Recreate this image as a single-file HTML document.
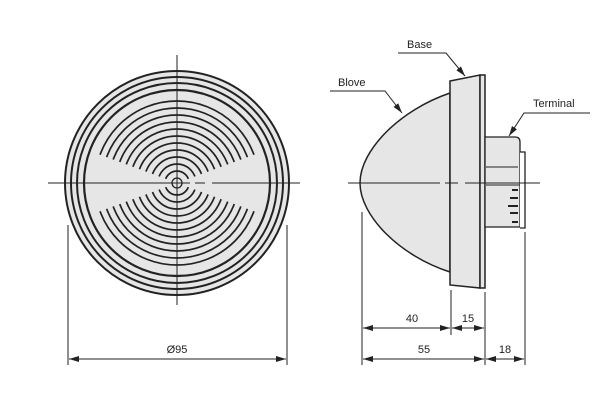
<!DOCTYPE html>
<html><head><meta charset="utf-8"><style>
html,body{margin:0;padding:0;background:#fff;}
svg{display:block;font-family:"Liberation Sans",Arial,sans-serif;}
</style></head><body>
<svg width="601" height="405" viewBox="0 0 601 405" xmlns="http://www.w3.org/2000/svg">
<defs>
<clipPath id="bt"><polygon points="177,183 0,118 0,0 354,0 354,118"/><polygon points="177,183 0,248 0,400 354,400 354,248"/></clipPath>
<marker id="a" viewBox="0 0 10 6" refX="10" refY="3" markerWidth="10" markerHeight="6" orient="auto-start-reverse" markerUnits="userSpaceOnUse"><path d="M0,0L10,3L0,6z" fill="#222"/></marker>
</defs>
<!-- front view -->
<circle cx="177" cy="183" r="112" fill="#e6e6e6" stroke="#222" stroke-width="2"/>
<g fill="none" stroke="#222">
<circle cx="177" cy="183" r="106" stroke-width="2"/>
<circle cx="177" cy="183" r="100" stroke-width="2"/>
<circle cx="177" cy="183" r="93" stroke-width="2.2"/>
<g clip-path="url(#bt)" stroke-width="1.7">
<circle cx="177" cy="183" r="12"/><circle cx="177" cy="183" r="19"/><circle cx="177" cy="183" r="26"/><circle cx="177" cy="183" r="33"/><circle cx="177" cy="183" r="40"/><circle cx="177" cy="183" r="47"/><circle cx="177" cy="183" r="54"/><circle cx="177" cy="183" r="61"/><circle cx="177" cy="183" r="68"/><circle cx="177" cy="183" r="75"/><circle cx="177" cy="183" r="82"/>
</g>
<circle cx="177" cy="183" r="5" stroke-width="1.3"/>
</g>
<g stroke="#222" stroke-width="1" fill="none">
<line x1="177" y1="55" x2="177" y2="305"/>
<line x1="48" y1="183" x2="190" y2="183"/><line x1="195" y1="183" x2="205" y2="183"/><line x1="212" y1="183" x2="300" y2="183"/>
<line x1="68" y1="225" x2="68" y2="365"/><line x1="287" y1="225" x2="287" y2="365"/>
<line x1="69" y1="359" x2="286" y2="359" marker-start="url(#a)" marker-end="url(#a)"/>
</g>
<text x="177" y="353" font-size="11" text-anchor="middle" fill="#222">Ø95</text>
<!-- side view -->
<g stroke="#222" stroke-width="1.5" fill="#e6e6e6">
<path d="M450,93 C400,110 360,150 360,183 C360,216 400,256 450,272 Z"/>
<path d="M450,81 L480,75 L480,288 L450,285 Z"/>
<rect x="480" y="75" width="5" height="213"/>
<path d="M485,137 L515,137 Q520,137 520,142 L520,227 L485,227 Z" stroke-width="1.3"/>
<path d="M520,152 L525,152 L525,228 L520,228" fill="#fff" stroke-width="1.3"/>
</g>
<g stroke="#222" stroke-width="1" fill="none">
<line x1="486" y1="167" x2="518" y2="167"/>
<line x1="486" y1="185" x2="520" y2="185"/>
<line x1="512" y1="190" x2="518" y2="190" stroke-width="2"/>
<line x1="510" y1="198" x2="518" y2="198" stroke-width="2"/>
<line x1="508" y1="206" x2="518" y2="206" stroke-width="2"/>
<line x1="510" y1="213" x2="518" y2="213" stroke-width="2"/>
<line x1="512" y1="222" x2="518" y2="222" stroke-width="2"/>
<line x1="348" y1="183" x2="440" y2="183"/><line x1="445" y1="183" x2="458" y2="183"/><line x1="465" y1="183" x2="540" y2="183"/>
<line x1="362" y1="212" x2="362" y2="365"/>
<line x1="451" y1="290" x2="451" y2="335"/>
<line x1="485" y1="292" x2="485" y2="365"/>
<line x1="525" y1="232" x2="525" y2="365"/>
<line x1="363" y1="328" x2="450" y2="328" marker-start="url(#a)" marker-end="url(#a)"/>
<line x1="452" y1="328" x2="484" y2="328" marker-start="url(#a)" marker-end="url(#a)"/>
<line x1="363" y1="359" x2="484" y2="359" marker-start="url(#a)" marker-end="url(#a)"/>
<line x1="486" y1="359" x2="524" y2="359" marker-start="url(#a)" marker-end="url(#a)"/>
<polyline points="398,53 446,53 465,76" marker-end="url(#a)"/>
<polyline points="330,91 385,91 402,113" marker-end="url(#a)"/>
<polyline points="590,113 524,113 509,136" marker-end="url(#a)"/>
</g>
<g font-size="11" fill="#222">
<text x="412" y="322" text-anchor="middle">40</text>
<text x="468" y="322" text-anchor="middle">15</text>
<text x="424" y="353" text-anchor="middle">55</text>
<text x="505" y="353" text-anchor="middle">18</text>
<text x="407" y="48">Base</text>
<text x="338" y="86">Blove</text>
<text x="533" y="107">Terminal</text>
</g>
</svg>
</body></html>
